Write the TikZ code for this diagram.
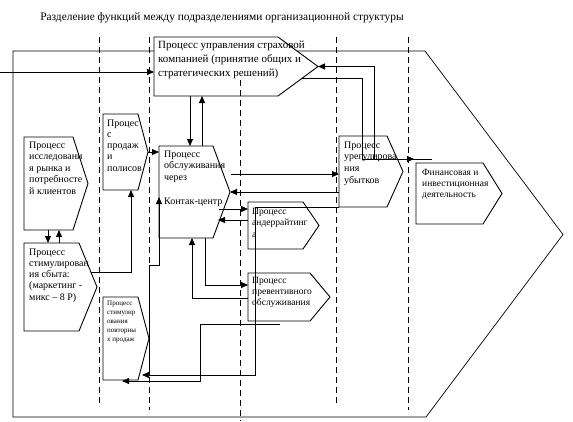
\documentclass[tikz,border=0pt]{standalone}
\usepackage{fontspec}
\setmainfont{Liberation Serif}
\usetikzlibrary{arrows.meta,calc}
\tikzset{
  boxline/.style={draw=black, line width=0.9pt, fill=white, line join=miter},
  outline/.style={draw=black, line width=0.7pt},
  divider/.style={draw=black, line width=0.9pt, dash pattern=on 6pt off 4pt},
  conn/.style={draw=black, line width=0.9pt},
  arr/.style={conn, -{Triangle[length=7pt,width=6pt]}},
  body/.style={inner sep=0pt, outer sep=0pt, anchor=north west},
  lbl/.style={inner sep=0pt, anchor=base west},
}
\newcommand\txt[3]{\parbox[t]{220pt}{\fontsize{#1}{#2}\selectfont\raggedright #3}}
% name, left, top, body width, body height, pointer length
\newcommand\pbox[6]{%
  \node[body, minimum width=#4pt, minimum height=#5pt] (#1) at (#2,#3) {};
  \coordinate (#1-tip) at ($(#1.east)+(#6,0)$);
  \draw[boxline] (#1.north west) -- (#1.north east) -- (#1-tip) -- (#1.south east) -- (#1.south west) -- cycle;
}
\begin{document}
\begin{tikzpicture}[x=1pt,y=-1pt]
\useasboundingbox (0,0) rectangle (573,421);

% title
\node[inner sep=0pt, anchor=base] (title) at (222,20)
  {\fontsize{11.4}{13}\selectfont Разделение функций между подразделениями организационной структуры};

% big outline
\draw[outline] (13,51) -- (425,51) -- (563,234.5) -- (426,417) -- (13,417) -- cycle;

% management box
\pbox{mgmt}{154}{37}{124}{59}{40}

% dashed dividers
\draw[divider] (99,37) -- (99,405);
\draw[divider] (149,37) -- (149,410);
\draw[divider] (240,80) -- (240,421);
\draw[divider] (336,37) -- (336,405);
\draw[divider] (408,37) -- (408,410);

% other boxes
\pbox{sales}{103}{114}{35}{76}{10}
\pbox{res}{24}{137}{49}{93}{15}
\pbox{stim}{24}{243}{55}{88}{18}
\pbox{svc}{159}{146}{54}{92}{17}
\pbox{claims}{339}{136}{48}{71}{16}
\pbox{fin}{416}{163}{67}{61}{19}
\pbox{under}{248}{202}{55}{47}{16}
\pbox{prev}{248}{273}{62}{48}{20}
\pbox{rep}{103}{297}{35}{83}{11}

% texts
\node[lbl] (mgmt-t) at (158,48.5) {\txt{11}{14}{Процесс управления страховой\\компанией (принятие общих и\\стратегических решений)}};
\node[lbl] (sales-t) at (107,126) {\txt{10}{11.25}{Процес\\с\\продаж\\и\\полисов}};
\node[lbl] (res-t) at (29,148) {\txt{10}{11.5}{Процесс\\исследовани\\я рынка и\\потребносте\\й клиентов}};
\node[lbl] (stim-t) at (29,255) {\txt{10}{11.3}{Процесс\\стимулирован\\ия сбыта:\\(маркетинг -\\микс – 8 Р)}};
\node[lbl] (svc-t) at (164,157) {\txt{10}{11.75}{Процесс\\обслуживания\\через\\\mbox{}\\Контак-центр}};
\node[lbl] (claims-t) at (344,148) {\txt{10}{11.7}{Процесс\\урегулирова\\ния\\убытков}};
\node[lbl] (fin-t) at (422,175) {\txt{9.5}{11}{Финансовая и\\инвестиционная\\деятельность}};
\node[lbl] (under-t) at (252,214) {\txt{9.5}{11.5}{Процесс\\андеррайтинг\\а}};
\node[lbl] (prev-t) at (252,283) {\txt{9.5}{11}{Процесс\\превентивного\\обслуживания}};
\node[lbl] (rep-t) at (107,305) {\txt{7}{9.2}{Процесс\\стимулир\\ования\\повторны\\х продаж}};

% junction coordinates
\coordinate (in) at (0,72);
\coordinate (m-out) at ($(mgmt-tip)!0.4!(mgmt.south east)$);
\coordinate (fc) at (362,159);
\coordinate (fin-in) at ($(fin.north west)+(-2,-4)$);
\coordinate (fin-end) at (432,159);
\coordinate (cl-up) at (374,159);
\coordinate (st-out) at ($(stim.north east)!0.68!(stim-tip)$);
\coordinate (s1) at ($(svc-tip)+(1,-18)$);
\coordinate (s2) at ($(under.north west)+(-29,7)$);
\coordinate (u-out) at ($(under.north west)+(0,18)$);
\coordinate (j1) at (255,207);
\coordinate (j2) at (255,375);
\coordinate (rep-in) at (142,375);
\coordinate (j3) at (149,375);
\coordinate (j4) at (149,265);
\coordinate (j4b) at (159,265);
\coordinate (svc-in) at ($(svc.north west)+(0,51)$);
\coordinate (j5) at (280,324);
\coordinate (j6) at (200,324);
\coordinate (j7) at (200,381);
\coordinate (rep-in2) at ($(rep.south west)+(19,1)$);

% connectors
\draw[arr] (in) -- (in -| mgmt.west);
\draw[conn] (m-out) -| (fc) -- (fin-end);
\draw[arr] (fc) -- (fin-in);
\draw[arr] (cl-up) |- (mgmt-tip);
\draw[arr] ([xshift=36pt]mgmt.south west) -- ([xshift=31pt]svc.north west);
\draw[arr] ([xshift=43pt]svc.north west) -- ([xshift=48pt]mgmt.south west);
\draw[arr] (sales-tip) -- (sales-tip -| svc.west);
\draw[arr] ([xshift=24pt]res.south west) -- ([xshift=24pt]stim.north west);
\draw[arr] ([xshift=35pt]stim.north west) -- ([xshift=35pt]res.south west);
\draw[arr] (st-out) -| ([xshift=28pt]sales.south west);
\draw[arr] (s1) -- (s1 -| claims.west);
\draw[arr] (claims.west |- svc-tip) -- (svc-tip);
\draw[arr] (s2) -- (s2 -| under.west);
\draw[arr] (u-out) -- ++(-30,0);
\draw[arr] ([xshift=46pt]svc.south west) |- ($(prev.north west)+(0,12)$);
\draw[arr] ($(prev.north west)+(0,25)$) -| ([xshift=33pt]svc.south west);
\draw[arr] (claims.south west) -- (j1) -- (j2) -- (rep-in);
\draw[arr] (j3) -- (j4) -- (j4b) -- (svc-in);
\draw[arr] (j5) -- (j6) -- (j7) -- (rep-in2);
\end{tikzpicture}
\end{document}
